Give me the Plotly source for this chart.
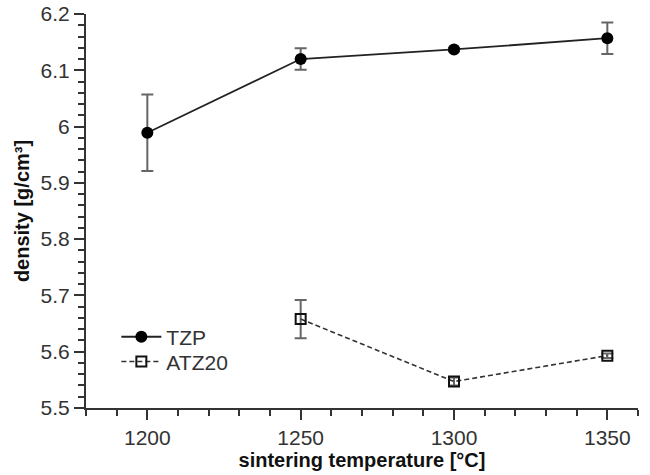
import plotly.graph_objects as go

temps = [1200, 1250, 1300, 1350]
tzp = [5.989, 6.120, 6.137, 6.157]
tzp_err = [0.068, 0.019, 0.003, 0.028]
atz_temps = [1250, 1300, 1350]
atz = [5.658, 5.547, 5.593]
atz_err = [0.034, 0.007, 0.004]

fig = go.Figure()
fig.add_trace(go.Scatter(
    x=temps, y=tzp, name="TZP", mode="lines+markers", legend="legend",
    line=dict(color="#222222", width=1.8),
    marker=dict(symbol="circle", size=12, color="black"),
    error_y=dict(type="data", array=tzp_err, visible=True, color="#666666", thickness=2, width=6),
))
fig.add_trace(go.Scatter(
    x=atz_temps, y=atz, name="ATZ20", mode="lines+markers", legend="legend2",
    line=dict(color="#333333", width=1.6, dash="5px,3px"),
    marker=dict(symbol="square-open", size=10, color="#111111", line=dict(width=2)),
    error_y=dict(type="data", array=atz_err, visible=True, color="#666666", thickness=2, width=6),
))

axis_font = dict(family="Liberation Sans, Arial, sans-serif", size=21, color="#333333")
leg_common = dict(xanchor="left", yanchor="middle", font=dict(size=21, color="#333333"),
                  bgcolor="rgba(0,0,0,0)", itemwidth=40)
fig.update_layout(
    width=650, height=475,
    margin=dict(l=86, r=12, t=14, b=67),
    paper_bgcolor="white", plot_bgcolor="white",
    font=dict(family="Liberation Sans, Arial, sans-serif", color="#333333"),
    showlegend=True,
    legend=dict(x=0.055, y=0.180, **leg_common),
    legend2=dict(x=0.055, y=0.117, **leg_common),
    xaxis=dict(
        range=[1180, 1360], tickvals=[1200, 1250, 1300, 1350],
        ticks="outside", ticklen=10, tickwidth=2, tickcolor="#333333",
        showline=True, linecolor="#333333", linewidth=2, automargin=False,
        showgrid=False, zeroline=False, tickfont=axis_font,
        minor=dict(dtick=10, tick0=1180, ticks="outside", ticklen=6, tickwidth=2, tickcolor="#333333", showgrid=False),
        title=dict(text="<b>sintering temperature [°C]</b>", font=dict(size=20, color="#111111"), standoff=2),
    ),
    yaxis=dict(
        range=[5.5, 6.2], tickvals=[5.5, 5.6, 5.7, 5.8, 5.9, 6.0, 6.1, 6.2],
        ticktext=["5.5", "5.6", "5.7", "5.8", "5.9", "6", "6.1", "6.2"],
        ticks="outside", ticklen=10, tickwidth=2, tickcolor="#333333",
        showline=True, linecolor="#333333", linewidth=2, automargin=False,
        showgrid=False, zeroline=False, tickfont=axis_font,
        minor=dict(dtick=0.02, tick0=5.5, ticks="outside", ticklen=6, tickwidth=2, tickcolor="#333333", showgrid=False),
        title=dict(text="<b>density [g/cm³]</b>", font=dict(size=20, color="#111111"), standoff=6),
    ),
)
fig.write_html("out.html")
